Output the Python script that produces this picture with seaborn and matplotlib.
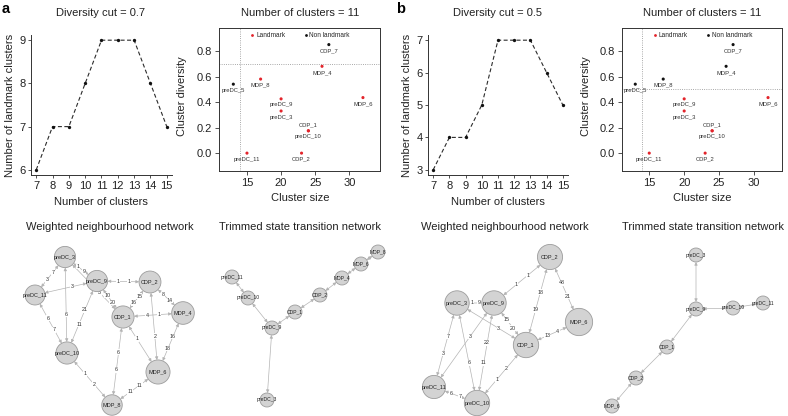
import numpy as np
import pandas as pd
import matplotlib
matplotlib.use("Agg")
import matplotlib.pyplot as plt
from matplotlib.patches import Circle, FancyArrowPatch
import seaborn as sns

# ---------------- data ----------------
n_clusters = [7, 8, 9, 10, 11, 12, 13, 14, 15]
landmarks_a = [6, 7, 7, 8, 9, 9, 9, 8, 7]
landmarks_b = [3, 4, 4, 5, 7, 7, 7, 6, 5]
yticks_a = [6, 7, 8, 9]
yticks_b = [3, 4, 5, 6, 7]

cluster_names = ["CDP_7", "MDP_4", "MDP_8", "preDC_5", "preDC_9", "preDC_3",
                 "MDP_6", "CDP_1", "preDC_10", "preDC_11", "CDP_2"]
cluster_size = [27, 26, 17, 13, 20, 20, 32, 24, 24, 15, 23]
cluster_diversity = [0.85, 0.68, 0.58, 0.54, 0.425, 0.33, 0.435, 0.175, 0.175, 0.0, 0.0]
diversity_cut_a = 0.7
diversity_cut_b = 0.5
size_cut = 14

# weighted neighbourhood network (a): (from, to, weight near 'from', weight near 'to')
edges_wa = [
    ("preDC_3", "preDC_9", 1, 9), ("preDC_3", "preDC_11", 7, 3),
    ("preDC_11", "preDC_9", None, 3), ("preDC_9", "CDP_2", 1, 1),
    ("preDC_3", "CDP_1", None, 3), ("preDC_9", "CDP_1", 10, 20),
    ("CDP_2", "CDP_1", 15, 16), ("CDP_2", "MDP_4", 8, 14),
    ("CDP_1", "MDP_4", 4, 1), ("CDP_2", "MDP_6", None, 2),
    ("MDP_4", "MDP_6", 16, 18), ("CDP_1", "MDP_6", 1, None),
    ("CDP_1", "MDP_8", 6, 6), ("MDP_6", "MDP_8", 11, 11),
    ("preDC_10", "MDP_8", 1, 2), ("preDC_11", "preDC_10", 6, 7),
    ("preDC_3", "preDC_10", None, 6), ("preDC_9", "preDC_10", 21, 11),
]
edges_wb = [
    ("preDC_9", "CDP_2", 1, 1), ("CDP_2", "CDP_1", 18, 19),
    ("CDP_2", "MDP_6", 48, 21), ("preDC_3", "preDC_9", 1, 9),
    ("preDC_9", "CDP_1", 15, 20), ("preDC_3", "CDP_1", None, 3),
    ("MDP_6", "CDP_1", 4, 13), ("preDC_3", "preDC_11", 7, 3),
    ("preDC_9", "preDC_11", 3, None), ("preDC_3", "preDC_10", None, 6),
    ("preDC_9", "preDC_10", 22, 11), ("CDP_1", "preDC_10", 2, 1),
    ("preDC_11", "preDC_10", 6, 7),
]
edges_ta = [("MDP_8", "MDP_6"), ("MDP_6", "MDP_4"), ("MDP_4", "CDP_2"),
            ("CDP_2", "CDP_1"), ("CDP_1", "preDC_9"), ("preDC_11", "preDC_10"),
            ("preDC_10", "preDC_9"), ("preDC_9", "preDC_3")]
edges_tb = [("preDC_3", "preDC_9"), ("preDC_9", "preDC_10"), ("preDC_10", "preDC_11"),
            ("preDC_9", "CDP_1"), ("CDP_1", "CDP_2"), ("CDP_2", "MDP_6")]

# network layouts (layout units = figure pixels)
layout_wa = {"preDC_3": (65, 257), "preDC_9": (97, 281), "CDP_2": (150, 282),
             "preDC_11": (35, 295), "CDP_1": (123, 317), "MDP_4": (183, 313),
             "preDC_10": (67, 353), "MDP_6": (158, 372), "MDP_8": (112, 405)}
layout_ta = {"MDP_8": (378, 252), "MDP_6": (361, 264), "MDP_4": (342, 278),
             "CDP_2": (320, 295), "CDP_1": (295, 312), "preDC_11": (232, 277),
             "preDC_10": (248, 298), "preDC_9": (272, 328), "preDC_3": (267, 400)}
layout_wb = {"CDP_2": (550, 257), "preDC_3": (457, 303), "preDC_9": (494, 303),
             "MDP_6": (579, 322), "CDP_1": (526, 345), "preDC_11": (434, 387),
             "preDC_10": (477, 403)}
layout_tb = {"preDC_3": (696, 255), "preDC_9": (696, 309), "preDC_10": (733, 308),
             "preDC_11": (763, 303), "CDP_1": (667, 347), "CDP_2": (636, 378),
             "MDP_6": (612, 406)}

# ---------------- style ----------------
sns.set_theme(style="ticks")
plt.rcParams["font.family"] = ["Liberation Sans", "DejaVu Sans"]
plt.rcParams.update({
    "font.size": 8, "xtick.labelsize": 8, "ytick.labelsize": 8,
    "axes.edgecolor": "#333333", "axes.linewidth": 0.7,
    "xtick.color": "#333333", "ytick.color": "#333333",
    "xtick.labelcolor": "#222222", "ytick.labelcolor": "#222222",
    "xtick.major.size": 2.5, "ytick.major.size": 2.5,
    "xtick.major.width": 0.6, "ytick.major.width": 0.6,
    "xtick.major.pad": 1.5, "ytick.major.pad": 1.5,
})

W, H = 788, 416
fig = plt.figure(figsize=(W / 100, H / 100), dpi=100)


def px_axes(x0, y0, x1, y1):
    return fig.add_axes([x0 / W, 1 - y1 / H, (x1 - x0) / W, (y1 - y0) / H])


def ftext(x, y, s, **kw):
    kw.setdefault("ha", "center")
    kw.setdefault("va", "center")
    kw.setdefault("color", "#222222")
    fig.text(x / W, 1 - y / H, s, **kw)


RED = "#e3242b"
BLACK = "#111111"


def line_panel(ax, values, yticks):
    df = pd.DataFrame({"n": n_clusters, "k": values})
    sns.lineplot(data=df, x="n", y="k", ax=ax, color="#2b2b2b", lw=0.8,
                 marker="o", markersize=2.4, markeredgewidth=0, markerfacecolor="#111111")
    ax.lines[0].set_dashes([3.6, 2.2])
    pad_y = 0.04 * (max(yticks) - min(yticks))
    ax.set_xlim(6.68, 15.32)
    ax.set_ylim(min(yticks) - pad_y, max(yticks) + pad_y)
    ax.set_xticks(n_clusters)
    ax.set_yticks(yticks)
    ax.set_xlabel("")
    ax.set_ylabel("")
    sns.despine(ax=ax)


def scatter_panel(ax, cut, xlim):
    df = pd.DataFrame({"name": cluster_names, "size": cluster_size,
                       "div": cluster_diversity})
    df["type"] = np.where((df["div"] <= cut) & (df["size"] >= size_cut),
                          "Landmark", "Non landmark")
    ax.axhline(cut, color="#8c8c8c", lw=0.6, ls=":", zorder=1)
    ax.axvline(size_cut, color="#8c8c8c", lw=0.6, ls=":", zorder=1)
    sns.scatterplot(data=df, x="size", y="div", hue="type",
                    hue_order=["Landmark", "Non landmark"],
                    palette={"Landmark": RED, "Non landmark": BLACK},
                    s=5, edgecolor="none", ax=ax, zorder=3)
    for r in df.itertuples():
        dy = 4.2 if r.name == "CDP_1" else -4.4
        ax.annotate(r.name, (r.size, r.div), xytext=(0, dy), textcoords="offset points",
                    ha="center", va="center", fontsize=4.2, color="#333333")
    ax.set_xlim(*xlim)
    ax.set_ylim(-0.14, 0.98)
    ax.set_xticks([15, 20, 25, 30])
    ax.set_yticks([0.0, 0.2, 0.4, 0.6, 0.8])
    ax.set_yticklabels(["0.0", "0.2", "0.4", "0.6", "0.8"])
    ax.tick_params(length=3, pad=2)
    ax.set_xlabel("")
    ax.set_ylabel("")
    sns.move_legend(ax, "upper center", bbox_to_anchor=(0.5, 1.01), ncol=2,
                    frameon=False, title=None, fontsize=4.7, handletextpad=0.1,
                    columnspacing=2.6, handlelength=1.0, markerscale=0.9)


# ---------------- top row ----------------
ax1 = px_axes(31, 35, 172, 175)
line_panel(ax1, landmarks_a, yticks_a)
ax2 = px_axes(219, 28, 380, 171)
scatter_panel(ax2, diversity_cut_a, (10.9, 34.5))
ax3 = px_axes(428, 35, 568, 175)
line_panel(ax3, landmarks_b, yticks_b)
ax4 = px_axes(622, 28, 782, 171)
scatter_panel(ax4, diversity_cut_b, (11.1, 34.0))

ftext(6, 9, "a", fontsize=10.5, fontweight="bold", color="black")
ftext(401, 9, "b", fontsize=10.5, fontweight="bold", color="black")
ftext(101, 13, "Diversity cut = 0.7")
ftext(300, 13, "Number of clusters = 11")
ftext(498, 13, "Diversity cut = 0.5")
ftext(702, 13, "Number of clusters = 11")
ftext(101, 202, "Number of clusters")
ftext(498, 202, "Number of clusters")
ftext(300, 198, "Cluster size")
ftext(702, 198, "Cluster size")
ftext(10, 105, "Number of landmark clusters", rotation=90)
ftext(407, 105, "Number of landmark clusters", rotation=90)
ftext(182, 96, "Cluster diversity", rotation=90)
ftext(586, 96, "Cluster diversity", rotation=90)

# ---------------- networks ----------------
axn = fig.add_axes([0, 0, 1, (H - 215) / H])
axn.set_xlim(0, W)
axn.set_ylim(H, 215)
axn.axis("off")

size_of = dict(zip(cluster_names, cluster_size))
EDGE_COL = "#b4b4b4"


def draw_network(layout, edges, base_r, weighted, fs_node):
    radius = {n: base_r + (0.12 * (size_of[n] - 20) if weighted else 0) for n in layout}
    for e in edges:
        u, v = e[0], e[1]
        p, q = np.array(layout[u], float), np.array(layout[v], float)
        d = q - p
        L = np.hypot(*d)
        un = d / L
        a = p + un * radius[u]
        b = q - un * radius[v]
        arr = FancyArrowPatch(a, b, arrowstyle="<|-|>", mutation_scale=4.5,
                              color=EDGE_COL, lw=0.5, shrinkA=0, shrinkB=0, zorder=1)
        axn.add_patch(arr)
        if weighted:
            for t, w in ((0.4, e[2]), (0.6, e[3])):
                if w is None:
                    continue
                pt = p + d * t
                axn.text(pt[0], pt[1], str(w), fontsize=3.9, color="#333333",
                         ha="center", va="center", zorder=2,
                         bbox=dict(boxstyle="square,pad=0.05", fc="white", ec="none"))
    for n, (x, y) in layout.items():
        axn.add_patch(Circle((x, y), radius[n], facecolor="#d3d3d3",
                             edgecolor="#9c9c9c", lw=0.6, zorder=3))
        axn.text(x, y, n, fontsize=fs_node, color="#222222", ha="center",
                 va="center", zorder=4)


draw_network(layout_wa, edges_wa, 10.6, True, 4.0)
draw_network(layout_ta, edges_ta, 7.0, False, 3.6)
draw_network(layout_wb, edges_wb, 12.2, True, 4.0)
draw_network(layout_tb, edges_tb, 7.0, False, 3.6)

ftext(110, 227, "Weighted neighbourhood network")
ftext(300, 227, "Trimmed state transition network")
ftext(505, 227, "Weighted neighbourhood network")
ftext(703, 227, "Trimmed state transition network")

fig.savefig("out.png", dpi=100)
